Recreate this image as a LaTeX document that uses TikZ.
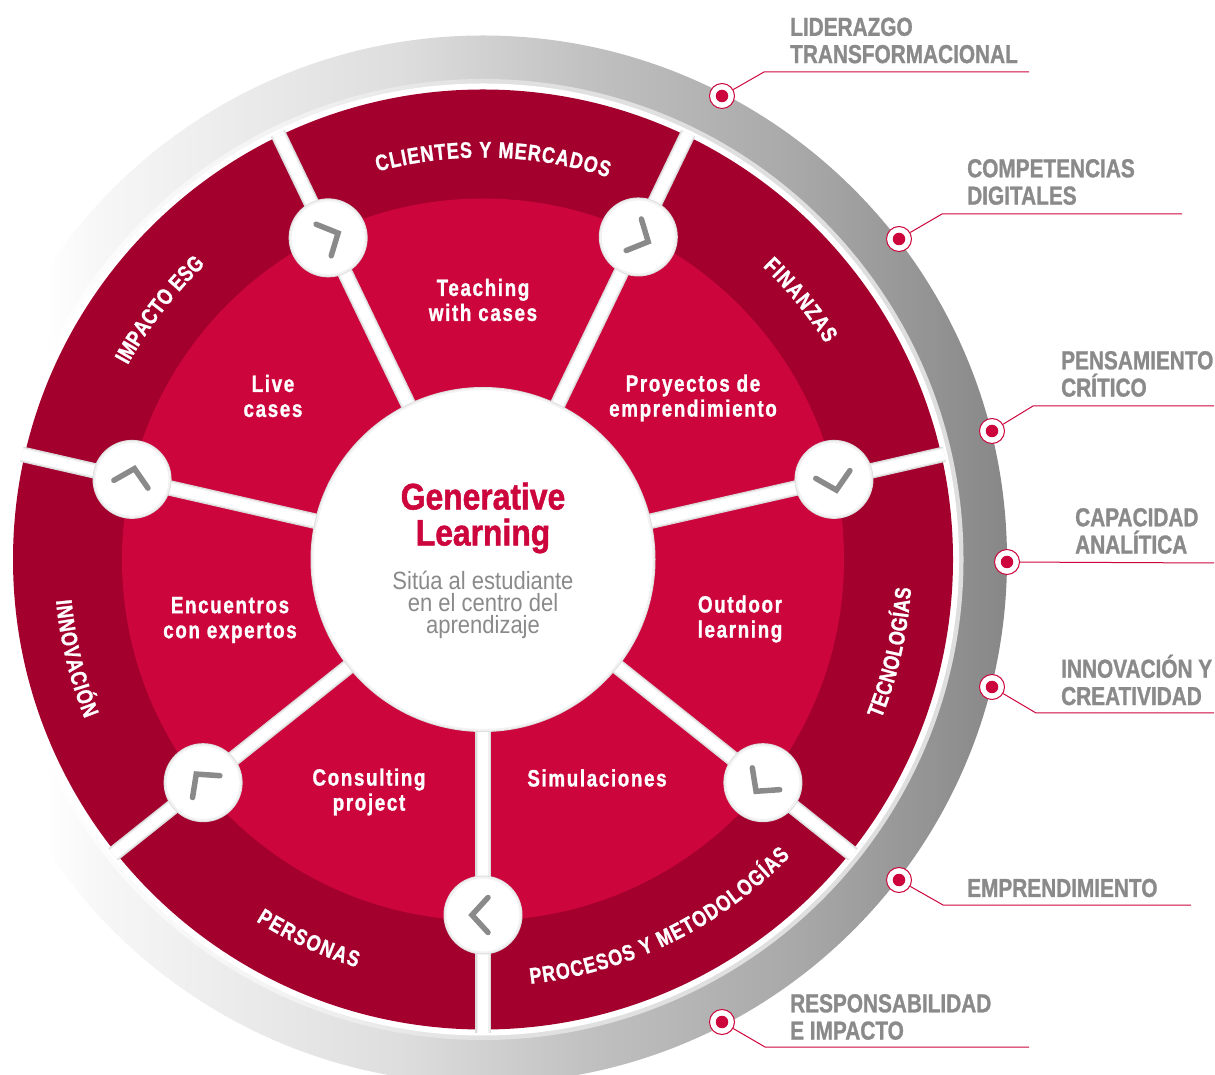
\documentclass[tikz,border=0pt]{standalone}
\usepackage{fontspec}
\usetikzlibrary{decorations.text}
\newfontfamily\capsfont[FakeStretch=0.8,BoldFeatures={FakeBold=1.1}]{Liberation Sans}
\newfontfamily\stepfont[FakeStretch=0.8,LetterSpace=7,BoldFeatures={FakeBold=1.2}]{Liberation Sans}
\newfontfamily\titlefont[FakeStretch=0.86,BoldFeatures={FakeBold=1.3}]{Liberation Sans}
\newfontfamily\subfont[FakeStretch=0.88]{Liberation Sans}
\definecolor{wine}{RGB}{163,0,46}
\definecolor{crimson}{RGB}{204,5,60}
\definecolor{midgray}{RGB}{138,138,138}
\pgfdeclarehorizontalshading{ringshade}{100bp}{
 rgb(0bp)=(1,1,1); rgb(29bp)=(1,1,1); rgb(32bp)=(.965,.965,.965); rgb(46bp)=(.87,.87,.87);
 rgb(55.5bp)=(.75,.75,.75); rgb(65bp)=(.66,.66,.66); rgb(75bp)=(.53,.53,.53); rgb(100bp)=(.53,.53,.53)}
\pgfdeclarehorizontalshading{bandshade}{100bp}{
 rgb(0bp)=(1,1,1); rgb(27bp)=(1,1,1); rgb(40bp)=(.95,.95,.95); rgb(50bp)=(.88,.88,.88); rgb(100bp)=(.86,.86,.86)}
\pgfdeclarelayer{wheel}
\pgfdeclarelayer{spokes}
\pgfsetlayers{wheel,spokes,main}
\tikzset{
 hubdisc/.style={circle,fill=white,inner sep=0pt,minimum size=#1,draw=black!5,line width=2pt,
   preaction={draw=black!13,line width=4pt}},
 spokeA/.style={draw=black!14,line width=15.5pt},
 spokeB/.style={draw=black!6,line width=13pt},
 spokeC/.style={draw=white,line width=10.5pt},
 chev/.style={draw=midgray,line width=5.5pt,line cap=round,miter limit=10},
 ringdot/.style={circle,fill=white,draw=crimson,line width=1pt,inner sep=0pt,minimum size=25pt},
 ringcore/.style={circle,fill=crimson,inner sep=0pt,minimum size=12.5pt},
 leader/.style={draw=crimson,line width=1pt},
 outerlabel/.style={anchor=west,align=left,text=midgray,inner sep=0pt,
   font=\fontsize{26}{27.3}\selectfont\capsfont\bfseries},
 steplabel/.style={align=center,text=white,inner sep=0pt,
   font=\fontsize{23.5}{25}\selectfont\stepfont\bfseries},
 ringtext/.style args={#1}{decorate,decoration={text along path,text align={fit to path},text color=white,
   text={|\fontsize{22.5}{25}\selectfont\capsfont\bfseries|#1}}}
}
\begin{document}
\begin{tikzpicture}[x=1pt,y=1pt]
\useasboundingbox (0,0) rectangle (1215,1074);
\clip (0,0) rectangle (1215,1074);
\begin{scope}[shift={(483,514.5)}]
 \begin{pgfonlayer}{wheel}
  \shade[shading=ringshade] (0,0) circle (524);
  \shade[shading=bandshade] (0,0) circle (480.5);
  \fill[white] (0,0) circle (476);
  \fill[wine] (0,0) circle (470);
  \fill[crimson] (0,0) circle (361);
 \end{pgfonlayer}
 \node[hubdisc=341pt] (hub) at (0,0) {};
 \foreach \i/\a/\r in {1/115.71/357,2/64.29/358,3/12.86/360,4/-38.57/358,5/-90/355.5,6/-141.43/358,7/167.14/360}{
   \node[hubdisc=75pt] (d\i) at (\a:\r) {};
   \coordinate (o\i) at (\a:473);
   \begin{scope}[shift={(d\i.center)},rotate=\a-90]
     \draw[chev] (-5,17.5) -- (11,0) -- (-5,-17.5);
   \end{scope}
 }
 \begin{pgfonlayer}{spokes}
  \foreach \s in {spokeA,spokeB,spokeC}{
   \foreach \i in {1,...,7}{
     \draw[\s] (hub.center) -- (d\i.center) -- (o\i);
   }
  }
 \end{pgfonlayer}
 % curved sector labels
 \path[ringtext={CLIENTES Y MERCADOS}] (105.2:402) arc[start angle=105.2,end angle=71.9,radius=402];
 \path[ringtext={FINANZAS}] (46.3:405) arc[start angle=46.3,end angle=32.2,radius=405];
 \path[ringtext={IMPACTO ESG}] (151.3:405) arc[start angle=151.3,end angle=133.3,radius=405];
 \path[ringtext={INNOVACIÓN}] (185.5:429) arc[start angle=185.5,end angle=201.8,radius=429];
 \path[ringtext={PERSONAS}] (237.9:427) arc[start angle=237.9,end angle=252.8,radius=427];
 \path[ringtext={PROCESOS Y METODOLOGÍAS}] (276.4:427) arc[start angle=276.4,end angle=316,radius=427];
 \path[ringtext={TECNOLOGÍAS}] (-21.8:429) arc[start angle=-21.8,end angle=-3.8,radius=429];
\end{scope}
% centre texts
\node[align=center,text=crimson,inner sep=0pt,font=\fontsize{37}{36}\selectfont\titlefont\bfseries] (title) at (483,556) {Generative\\Learning};
\node[align=center,text=midgray,inner sep=0pt,font=\fontsize{25}{22.3}\selectfont\subfont] (subtitle) at (483,469) {Sitúa al estudiante\\en el centro del\\aprendizaje};
% step labels
\node[steplabel] (s1) at (483,774) {Teaching\\with cases};
\node[steplabel] (s2) at (273,678) {Live\\cases};
\node[steplabel] (s3) at (693,676) {Proyectos de\\emprendimiento};
\node[steplabel] (s4) at (230,454) {Encuentros\\con expertos};
\node[steplabel] (s5) at (740,455) {Outdoor\\learning};
\node[steplabel] (s6) at (369,282) {Consulting\\project};
\node[steplabel] (s7) at (597,296) {Simulaciones};
% ring dots and leaders
\foreach \i/\x/\y/\kx/\ky/\ex in {1/722/978/764/1002/1029,2/899/835/942/860/1182,3/992/643/1033/668/1214,5/992/387/1036/361/1214,6/899/194/943/169/1191,7/722/52/765/27/1029}{
  \node[ringdot] (p\i) at (\x,\y) {};
  \node[ringcore] (c\i) at (p\i.center) {};
  \coordinate (k\i) at (\kx,\ky);
  \coordinate (e\i) at (\ex,\ky);
  \draw[leader] (p\i) -- (k\i) -- (e\i);
}
\node[ringdot] (p4) at (1007,512) {};
\node[ringcore] (c4) at (p4.center) {};
\coordinate (e4) at (1214,511);
\draw[leader] (p4) -- (e4);
% outer labels
\node[outerlabel] (l1) at (790,1033.5) {LIDERAZGO\\TRANSFORMACIONAL};
\node[outerlabel] (l2) at (967,892) {COMPETENCIAS\\DIGITALES};
\node[outerlabel] (l3) at (1061,700) {PENSAMIENTO\\CRÍTICO};
\node[outerlabel] (l4) at (1075,543) {CAPACIDAD\\ANALÍTICA};
\node[outerlabel] (l5) at (1061,394) {INNOVACIÓN Y\\CREATIVIDAD};
\node[outerlabel] (l6) at (967,186) {EMPRENDIMIENTO};
\node[outerlabel] (l7) at (790,57) {RESPONSABILIDAD\\E IMPACTO};
\end{tikzpicture}
\end{document}
